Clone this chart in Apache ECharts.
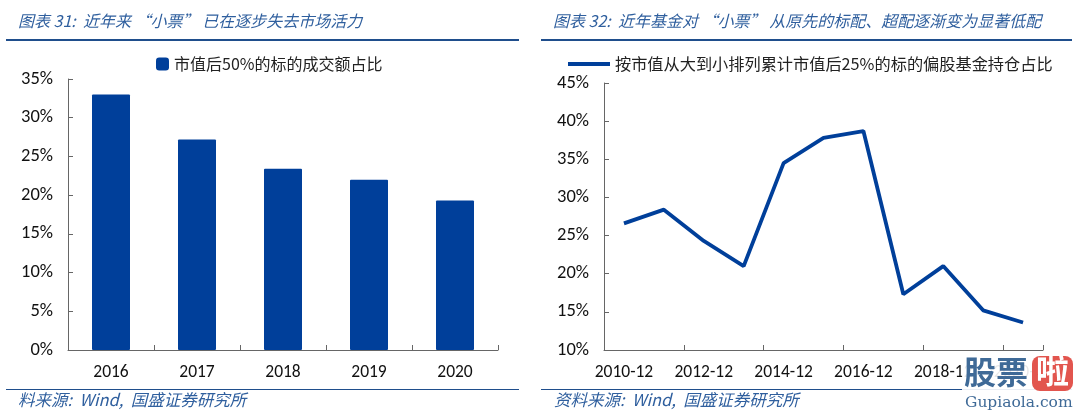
<!DOCTYPE html>
<html>
<head>
<meta charset="utf-8">
<style>html,body{margin:0;padding:0;background:#fff}#chart{width:1080px;height:414px}</style>
<script src="https://cdn.jsdelivr.net/npm/echarts@6/dist/echarts.min.js"></script>
</head>
<body>
<div id="chart"></div>
<script>
// left chart
var barYears = ['2016', '2017', '2018', '2019', '2020'];
var barValues = [33.0, 27.2, 23.4, 22.0, 19.3];
var barName = '市值后50%的标的成交额占比';
// right chart
var lineDates = ['2010-12', '2011-12', '2012-12', '2013-12', '2014-12', '2015-12', '2016-12', '2017-12', '2018-12', '2019-12', '2020-12'];
var lineValues = [26.6, 28.4, 24.3, 21.0, 34.5, 37.8, 38.7, 17.3, 21.0, 15.2, 13.6];
var lineName = '按市值从大到小排列累计市值后25%的标的偏股基金持仓占比';

var BLUE = '#003f9a';
var HEAD = '#2f5f9e';
var RULE = '#1f4e8c';
var CJK = '"Noto Sans CJK SC", sans-serif';
var LATIN = 'Carlito, "Liberation Sans", "Noto Sans CJK SC", sans-serif';

function pct(v) { return v + '%'; }

function xAxis(idx, data, labelInterval) {
    return {
        type: 'category', gridIndex: idx, data: data,
        axisLine: { lineStyle: { color: '#666', width: 1 } },
        axisTick: { show: true, inside: true, length: 5, lineStyle: { color: '#666' } },
        axisLabel: { color: '#111', fontSize: 17.5, fontFamily: LATIN, margin: 14, interval: labelInterval }
    };
}
function yAxis(idx, min, max) {
    return {
        type: 'value', gridIndex: idx, min: min, max: max, interval: 5,
        splitLine: { show: false },
        axisLine: { show: true, lineStyle: { color: '#666', width: 1 } },
        axisTick: { show: true, inside: true, length: 5, lineStyle: { color: '#666' } },
        axisLabel: { color: '#111', fontSize: 18.5, fontFamily: LATIN, margin: 15, formatter: pct }
    };
}
function heading(x, y, s, size) {
    return { type: 'text', left: x, top: y, z: 5, style: { text: s, fill: HEAD, fontSize: size, fontStyle: 'italic', fontFamily: CJK } };
}
function rule(x1, x2, y, w) {
    return { type: 'line', z: 5, shape: { x1: x1, y1: y, x2: x2, y2: y }, style: { stroke: RULE, lineWidth: w } };
}

var chart = echarts.init(document.getElementById('chart'));
chart.setOption({
    animation: false,
    backgroundColor: '#fff',
    grid: [
        { left: 68, top: 79, width: 430, height: 271 },
        { left: 604, top: 83, width: 439, height: 267 }
    ],
    legend: [
        { data: [barName], left: 151, top: 51, itemWidth: 13, itemHeight: 13, itemGap: 3, icon: 'roundRect',
          textStyle: { fontSize: 16, color: '#222', fontFamily: CJK } },
        { data: [{ name: lineName, icon: 'rect' }], left: 563, top: 51, itemWidth: 42, itemHeight: 4, itemGap: 3,
          textStyle: { fontSize: 16.2, color: '#222', fontFamily: CJK } }
    ],
    xAxis: [xAxis(0, barYears, 0), xAxis(1, lineDates, 1)],
    yAxis: [yAxis(0, 0, 35), yAxis(1, 10, 45)],
    series: [
        { name: barName, type: 'bar', xAxisIndex: 0, yAxisIndex: 0, data: barValues, barWidth: 38,
          itemStyle: { color: BLUE, borderRadius: 1 } },
        { name: lineName, type: 'line', xAxisIndex: 1, yAxisIndex: 1, data: lineValues, symbol: 'none',
          lineStyle: { color: BLUE, width: 3.8 }, itemStyle: { color: BLUE } }
    ],
    graphic: [
        heading(18, 13, '图表 31:  近年来 “小票” 已在逐步失去市场活力', 16),
        heading(553, 13, '图表 32:  近年基金对 “小票” 从原先的标配、超配逐渐变为显著低配', 16),
        rule(6, 519, 40, 2),
        rule(541, 1072, 40, 2),
        rule(6, 519, 389.5, 1.2),
        rule(541, 1072, 389.5, 1.2),
        heading(18, 391, '料来源:  Wind,  国盛证券研究所', 16.5),
        heading(554, 391, '资料来源:  Wind,  国盛证券研究所', 16.5),
        // watermark over the last labels
        { type: 'rect', z: 8, shape: { x: 962, y: 356, width: 116, height: 58 }, style: { fill: 'rgba(255,255,255,0.9)' } },
        { type: 'text', z: 9, left: 964, top: 356, style: { text: '股票', fill: '#3f6a97', fontSize: 32, fontWeight: 'bold', fontFamily: CJK } },
        { type: 'rect', z: 9, shape: { x: 1032, y: 356, width: 41, height: 35, r: 8 }, style: { fill: '#e2554e' } },
        { type: 'text', z: 10, left: 1036, top: 354, style: { text: '啦', fill: '#fff', fontSize: 33, fontWeight: 'bold', fontFamily: CJK } },
        { type: 'text', z: 9, left: 965, top: 395, style: { text: 'Gupiaola.com', fill: '#3f6a97', fontSize: 15.5, fontFamily: '"DejaVu Serif", serif' } }
    ]
});
</script>
</body>
</html>
